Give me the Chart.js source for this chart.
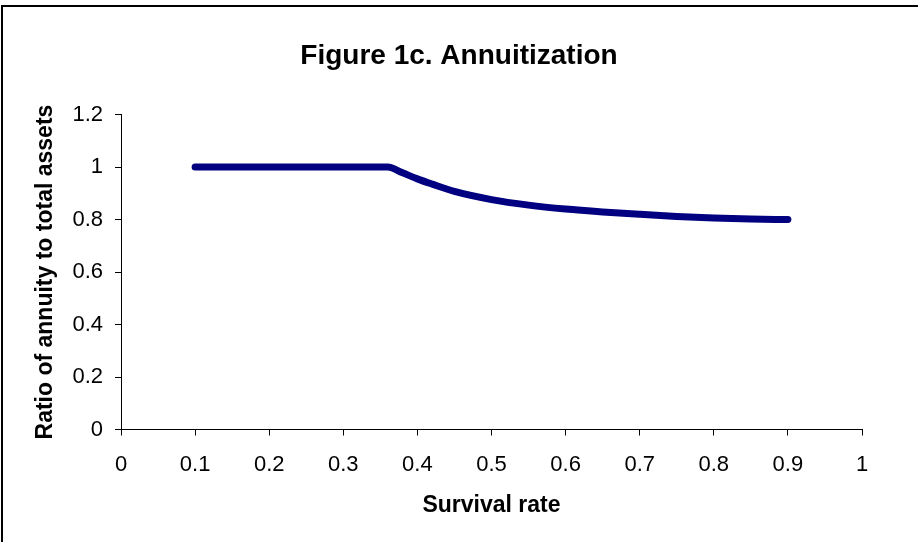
<!DOCTYPE html>
<html>
<head>
<meta charset="utf-8">
<script src="https://cdn.jsdelivr.net/npm/chart.js@4.4.0/dist/chart.umd.min.js"></script>
<style>
  body { margin: 0; overflow: hidden; background: #fff; }
  #wrap { position: relative; width: 918px; height: 542px; }
  #frame { position: absolute; left: 1px; top: 5px; width: 1000px; height: 1000px; border: 2px solid #000; box-sizing: border-box; }
  canvas { position: absolute; left: 0; top: 0; }
</style>
</head>
<body>
<div id="wrap">
  <div id="frame"></div>
  <canvas id="myChart" width="918" height="542"></canvas>
</div>
<script>
// Figure 1c. Annuitization - ratio of annuity to total assets vs survival rate

const survivalRate = [0.1, 0.2, 0.3, 0.36, 0.38, 0.4, 0.42, 0.45, 0.5, 0.55, 0.6, 0.65, 0.7, 0.75, 0.8, 0.85, 0.9];
const annuityRatio = [1, 1, 1, 1, 0.978, 0.955, 0.935, 0.907, 0.876, 0.855, 0.84, 0.829, 0.82, 0.812, 0.806, 0.802, 0.8];

const xTicks = [0, 0.1, 0.2, 0.3, 0.4, 0.5, 0.6, 0.7, 0.8, 0.9, 1];
const yTicks = [0, 0.2, 0.4, 0.6, 0.8, 1, 1.2];

const fontFamily = "'Liberation Sans', Arial, sans-serif";

const points = survivalRate.map((x, i) => ({x: x, y: annuityRatio[i]}));

const ctx = document.getElementById("myChart").getContext("2d");

const myChart = new Chart(ctx, {
    type: "line",
    data: {
        datasets: [{
            label: 'Annuitization',
            data: points,
            borderColor: '#000080',
            backgroundColor: '#000080',
            borderWidth: 7,
            borderCapStyle: 'round',
            borderJoinStyle: 'round',
            pointRadius: 0,
            cubicInterpolationMode: 'monotone',
            fill: false
        }]
    },
    options: {
        responsive: false,
        animation: false,
        layout: {
            padding: 0
        },
        plugins: {
            legend: {display: false},
            tooltip: {enabled: false},
            title: {
                display: true,
                text: 'Figure 1c. Annuitization',
                color: '#000',
                font: {family: fontFamily, size: 28, weight: 'bold'},
                padding: {top: 39, bottom: 42}
            }
        },
        scales: {
            x: {
                type: 'linear',
                min: 0,
                max: 1,
                afterBuildTicks: function (scale) {
                    scale.ticks = xTicks.map(v => ({value: v}));
                },
                afterFit: function (scale) {
                    scale.height = 542 - 429.5;
                    // keep the plot's right edge at x = 862
                    scale.paddingRight = 56;
                },
                grid: {
                    display: true,
                    drawOnChartArea: false,
                    drawTicks: true,
                    tickLength: 6,
                    color: '#000'
                },
                border: {display: true, color: '#000', width: 1},
                ticks: {
                    color: '#000',
                    padding: 16,
                    maxRotation: 0,
                    font: {family: fontFamily, size: 22},
                    callback: function (value) {
                        return String(value);
                    }
                },
                title: {
                    display: true,
                    text: 'Survival rate',
                    color: '#000',
                    font: {family: fontFamily, size: 23, weight: 'bold'},
                    padding: {top: 0, bottom: 23}
                }
            },
            y: {
                type: 'linear',
                min: 0,
                max: 1.2,
                afterBuildTicks: function (scale) {
                    scale.ticks = yTicks.map(v => ({value: v}));
                },
                afterFit: function (scale) {
                    scale.width = 121;
                },
                grid: {
                    display: true,
                    drawOnChartArea: false,
                    drawTicks: true,
                    tickLength: 6,
                    color: '#000'
                },
                border: {display: true, color: '#000', width: 1},
                ticks: {
                    color: '#000',
                    padding: 12,
                    font: {family: fontFamily, size: 22},
                    callback: function (value) {
                        return String(value);
                    }
                },
                title: {
                    display: true,
                    text: 'Ratio of annuity to total assets',
                    color: '#000',
                    font: {family: fontFamily, size: 23, weight: 'bold'},
                    padding: {top: 32, bottom: 0}
                }
            }
        }
    }
});
</script>
</body>
</html>
